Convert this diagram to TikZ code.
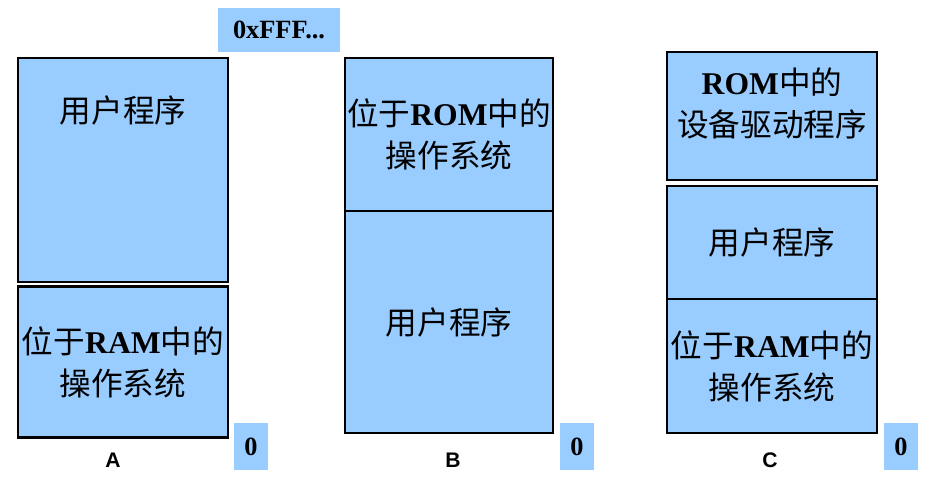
\documentclass[tikz,border=0pt]{standalone}
\usepackage{fontspec}
\setmainfont{Liberation Serif}
\setsansfont{Liberation Sans}
\newfontfamily\cjk{Noto Sans CJK SC}
\usetikzlibrary{positioning}

\definecolor{memblue}{HTML}{99CCFF}
\newcommand{\zh}[1]{{\cjk\mdseries #1}}

\begin{document}
\begin{tikzpicture}[x=0.02cm,y=-0.02cm,
  part/.style={draw=black,line width=1.5pt,fill=memblue,inner sep=0pt,
    align=center,font=\fontsize{18}{24}\selectfont\bfseries,text=black},
  addr/.style={fill=memblue,inner sep=0pt,font=\fontsize{15}{18}\selectfont\bfseries},
  tag/.style={font=\sffamily\bfseries\large}]

  \useasboundingbox (0,0) rectangle (932,490);

  % column A
  \node[part,minimum width=210*0.02cm,minimum height=224*0.02cm] (userA) at (123,170) {};
  \node[font=\fontsize{18}{24}\selectfont] (userAtxt) at (123,110) {\zh{用户程序}};
  \node[part,minimum width=210*0.02cm,minimum height=151*0.02cm] (osA) at (123,362)
    {\zh{位于}RAM\zh{中的}\\\zh{操作系统}};
  \node[addr,minimum width=122*0.02cm,minimum height=44*0.02cm] (top) at (279,30) {0xFFF...};
  \node[addr,minimum width=34*0.02cm,minimum height=47*0.02cm] (zeroA) at (251,446.5) {0};
  \node[tag] (labA) at (113,460) {A};

  % column B
  \node[part,minimum width=208*0.02cm,minimum height=153*0.02cm] (osB) at (449,134.5)
    {\zh{位于}ROM\zh{中的}\\\zh{操作系统}};
  \node[part,minimum width=208*0.02cm,minimum height=222*0.02cm] (userB) at (449,322)
    {\zh{用户程序}};
  \node[addr,minimum width=34*0.02cm,minimum height=47*0.02cm] (zeroB) at (577,446.5) {0};
  \node[tag] (labB) at (453,460) {B};

  % column C
  \node[part,minimum width=210*0.02cm,minimum height=128*0.02cm] (drvC) at (772,116)
    {ROM\zh{中的}\\\zh{设备驱动程序}\\[-0.3cm]\mbox{}};
  \node[part,minimum width=210*0.02cm,minimum height=113*0.02cm] (userC) at (772,242.5)
    {\zh{用户程序}};
  \node[part,minimum width=210*0.02cm,minimum height=134*0.02cm] (osC) at (772,366)
    {\zh{位于}RAM\zh{中的}\\\zh{操作系统}};
  \node[addr,minimum width=34*0.02cm,minimum height=47*0.02cm] (zeroC) at (901,446.5) {0};
  \node[tag] (labC) at (770,460) {C};

\end{tikzpicture}
\end{document}
